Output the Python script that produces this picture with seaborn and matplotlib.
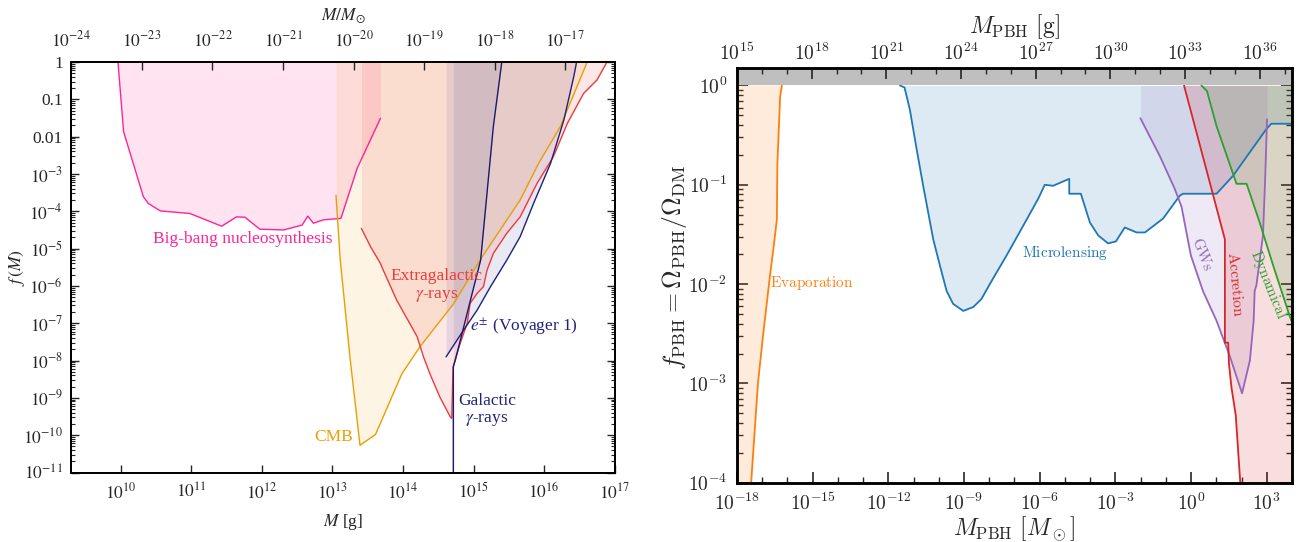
import numpy as np
import matplotlib
matplotlib.use("Agg")
import matplotlib.pyplot as plt
import seaborn as sns
from matplotlib.ticker import LogLocator, NullFormatter, NullLocator

# ---------------- Left panel: log10 M [g], log10 f(M) ----------------
bbn_logM = [9.96, 10.04, 10.32, 10.39, 10.56, 10.98, 11.43, 11.64, 11.76, 11.97,
            12.31, 12.57, 12.65, 12.73, 12.87, 13.12, 13.35, 13.68]
bbn_logf = [0.0, -1.87, -3.61, -3.79, -3.99, -4.06, -4.40, -4.15, -4.16, -4.48,
            -4.50, -4.37, -4.13, -4.32, -4.23, -4.19, -2.85, -1.51]

cmb_logM = [13.05, 13.11, 13.25, 13.39, 13.61, 13.985, 14.24, 14.72, 15.09,
            15.66, 15.92, 16.23, 16.61]
cmb_logf = [-3.57, -5.3, -7.95, -10.27, -9.98, -8.35, -7.63, -6.47, -5.31,
            -3.70, -2.72, -1.73, 0.0]

eg_logM = [13.41, 13.54, 13.68, 13.72, 13.91, 14.20, 14.29, 14.38, 14.52, 14.67,
           14.69, 14.71, 14.81, 14.91, 14.95, 15.05, 15.14, 15.19, 15.28, 15.47,
           15.66, 15.90, 16.13, 16.33, 16.56, 16.75, 16.89]
eg_logf = [-4.46, -4.95, -5.40, -5.58, -6.38, -7.36, -7.90, -8.35, -8.97, -9.51,
           -9.55, -8.17, -7.54, -7.0, -6.47, -6.2, -6.02, -5.58, -5.13, -4.59,
           -4.15, -3.25, -2.54, -1.64, -0.84, -0.48, 0.0]

gal_logM = [14.713, 14.713, 14.74, 14.86, 14.98, 15.10, 15.19, 15.28, 15.40]
gal_logf = [-11.0, -8.17, -7.99, -7.10, -6.2, -5.31, -3.52, -1.73, 0.0]

voy_logM = [14.61, 14.86, 15.05, 15.24, 15.47, 15.66, 15.85, 16.09, 16.28, 16.42, 16.46]
voy_logf = [-7.90, -7.18, -6.65, -6.02, -5.31, -4.68, -3.79, -2.72, -1.55, -0.39, 0.0]

left_xticks_exp = [10, 11, 12, 13, 14, 15, 16, 17]
left_top_exp = [-24, -23, -22, -21, -20, -19, -18, -17]
left_yticks_exp = [-11, -10, -9, -8, -7, -6, -5, -4, -3, -2, -1, 0]
left_ytick_labels = [r'$10^{-11}$', r'$10^{-10}$', r'$10^{-9}$', r'$10^{-8}$',
                     r'$10^{-7}$', r'$10^{-6}$', r'$10^{-5}$', r'$10^{-4}$',
                     r'$10^{-3}$', '0.01', '0.1', '1']

# ---------------- Right panel: log10 M [Msun], log10 f_PBH ----------------
evap_logM = [-18.1, -17.44, -17.17, -16.96, -16.69, -16.56, -16.42, -16.40, -16.29, -16.22]
evap_logf = [-6.4, -4.0, -3.0, -2.5, -1.91, -1.65, -1.35, -0.79, -0.11, 0.0]

micro_logM = [-11.54, -11.36, -11.15, -10.88, -10.62, -10.22, -9.96, -9.69, -9.43,
              -9.03, -8.63, -8.31, -7.98, -7.31, -6.65, -6.06, -5.80, -5.47, -4.83,
              -4.83, -4.37, -4.01, -3.68, -3.29, -2.98, -2.63, -2.16, -1.83, -1.11,
              -0.45, -0.32, 1.01, 1.66, 2.98, 3.18, 4.1]
micro_logf = [0.0, -0.02, -0.24, -0.64, -1.01, -1.55, -1.81, -2.07, -2.20,
              -2.27, -2.23, -2.15, -2.0, -1.71, -1.41, -1.14, -1.00, -1.01, -0.94,
              -1.09, -1.09, -1.38, -1.51, -1.59, -1.57, -1.43, -1.48, -1.48, -1.34,
              -1.11, -1.09, -1.09, -0.91, -0.44, -0.385, -0.385]

gw_logM = [-2.01, -1.24, -0.65, -0.38, -0.01, 0.47, 1.01, 1.54, 2.02, 2.33,
           2.48, 2.52, 2.59, 2.85, 2.94, 3.01]
gw_logf = [-0.33, -0.71, -1.04, -1.22, -1.71, -2.07, -2.37, -2.73, -3.10, -2.77,
           -2.37, -2.07, -2.01, -1.51, -0.91, -0.34]

acc_logM = [-0.28, 1.34, 1.34, 1.47, 1.50, 1.60, 1.77, 1.95, 2.3, 4.5]
acc_logf = [0.0, -1.55, -2.59, -2.59, -2.80, -3.04, -3.32, -4.0, -5.0, -8.0]

dyn_logM = [0.41, 0.63, 1.01, 1.80, 2.20, 2.72, 3.25, 3.88, 4.1]
dyn_logf = [0.0, -0.057, -0.41, -0.99, -0.99, -1.38, -1.81, -2.30, -2.46]

right_xmajor_exp = [-18, -15, -12, -9, -6, -3, 0, 3]
right_top_exp = [15, 18, 21, 24, 27, 30, 33, 36]
right_y_exp = [-4, -3, -2, -1, 0]

# ---------------- style ----------------
sns.set_theme(style="white")
plt.rcParams['font.family'] = ['Liberation Serif', 'DejaVu Serif']
plt.rcParams['mathtext.fontset'] = 'stix'
plt.rcParams['axes.edgecolor'] = 'black'

fig = plt.figure(figsize=(13.11, 5.42), dpi=100)
W, H = 1311.0, 542.0


def px_axes(x0, y0, x1, y1):
    return [x0 / W, 1 - y1 / H, (x1 - x0) / W, (y1 - y0) / H]


axL = fig.add_axes(px_axes(71.4, 62, 614.7, 472.5))
axR = fig.add_axes(px_axes(737, 68, 1292, 482.7))


def constraint(ax, lgM, lgf, line, fill, alpha, lw, top=1.0):
    x = 10 ** np.asarray(lgM, float)
    y = 10 ** np.asarray(lgf, float)
    ax.fill_between(x, y, top, color=fill, alpha=alpha, lw=0, zorder=1)
    sns.lineplot(x=x, y=y, ax=ax, color=line, lw=lw, sort=False,
                 estimator=None, legend=False, zorder=2)


# ---------------- left panel ----------------
axL.set_xscale('log')
axL.set_yscale('log')
constraint(axL, bbn_logM, bbn_logf, '#ff2299', '#ff3aa0', 0.14, 1.0)
constraint(axL, cmb_logM, cmb_logf, '#e8a000', '#f0b030', 0.13, 1.0)
constraint(axL, eg_logM, eg_logf, '#f03a3a', '#f04848', 0.13, 1.0)
constraint(axL, voy_logM, voy_logf, '#22227a', '#303090', 0.10, 1.0)
constraint(axL, gal_logM, gal_logf, '#1a1a70', '#303090', 0.10, 1.0)
# thicker vertical galactic segment
sns.lineplot(x=[10 ** 14.713, 10 ** 14.713], y=[1e-11, 10 ** -8.9], ax=axL,
             color='#1a1a70', lw=2.0, legend=False, zorder=2)
axL.set_xlim(10 ** 9.3, 1e17)
axL.set_ylim(1e-11, 1)

fsL = 12.5
axL.set_xticks([10.0 ** e for e in left_xticks_exp],
               [r'$10^{%d}$' % e for e in left_xticks_exp])
axL.xaxis.set_minor_locator(NullLocator())
axL.set_yticks([10.0 ** e for e in left_yticks_exp], left_ytick_labels)
axL.yaxis.set_minor_locator(LogLocator(base=10, subs=np.arange(2, 10), numticks=100))
axL.yaxis.set_minor_formatter(NullFormatter())
axL.tick_params(axis='x', which='major', direction='in', length=6, width=1.0,
                labelsize=fsL, pad=7, top=False, bottom=True)
axL.tick_params(axis='y', which='major', direction='in', length=6, width=1.0,
                labelsize=fsL, pad=6, left=True, right=True)
axL.tick_params(axis='y', which='minor', direction='in', length=3, width=0.8,
                left=True, right=True)
for s in axL.spines.values():
    s.set_linewidth(1.3)
    s.set_color('black')

axLT = axL.twiny()
axLT.set_xscale('log')
axLT.set_xlim(10 ** 9.3 / 1.989e33, 1e17 / 1.989e33)
axLT.set_xticks([10.0 ** e for e in left_top_exp],
                [r'$10^{%d}$' % e for e in left_top_exp])
axLT.xaxis.set_minor_locator(NullLocator())
axLT.xaxis.set_minor_formatter(NullFormatter())
axLT.tick_params(axis='x', which='major', direction='in', length=6, width=1.0,
                 labelsize=fsL, pad=8)
axLT.set_xlabel(r'$M/M_{\odot}$', fontsize=fsL)
axLT.xaxis.set_label_coords(0.5, 1.112)
axLT.xaxis.label.set_va('center')
for s in axLT.spines.values():
    s.set_linewidth(1.3)

axL.set_xlabel(r'$M$ [g]', fontsize=fsL)
axL.xaxis.set_label_coords(0.5, -0.121)
axL.xaxis.label.set_va('center')
axL.set_ylabel(r'$f\,(M)$', fontsize=fsL)
axL.yaxis.set_label_coords(-0.100, 0.498)
axL.yaxis.label.set_va('center')

fsA = 12.5
axL.text(10 ** 11.73, 10 ** -4.75, 'Big-bang nucleosynthesis', color='#ff2299',
         fontsize=fsA, ha='center', va='center')
axL.text(10 ** 13.01, 10 ** -10.05, 'CMB', color='#e8a000', fontsize=fsA,
         ha='center', va='center')
axL.text(10 ** 14.47, 10 ** -6.0, 'Extragalactic\n' + r'$\gamma$-rays', color='#f03a3a',
         fontsize=fsA, ha='center', va='center', multialignment='center', linespacing=1.1)
axL.text(10 ** 15.72, 10 ** -7.08, r'$e^{\pm}$ (Voyager 1)', color='#22227a',
         fontsize=fsA, ha='center', va='center')
axL.text(10 ** 15.19, 10 ** -9.33, 'Galactic\n' + r'$\gamma$-rays', color='#22227a',
         fontsize=fsA, ha='center', va='center', multialignment='center', linespacing=1.1)

# ---------------- right panel ----------------
CM = dict(math_fontfamily='cm')
axR.set_xscale('log')
axR.set_yscale('log')
constraint(axR, evap_logM, evap_logf, '#ff7f0e', '#ff7f0e', 0.15, 1.3)
constraint(axR, micro_logM, micro_logf, '#1f77b4', '#1f77b4', 0.15, 1.3)
constraint(axR, gw_logM, gw_logf, '#9467bd', '#9467bd', 0.15, 1.3)
constraint(axR, acc_logM, acc_logf, '#d62728', '#d62728', 0.15, 1.3)
constraint(axR, dyn_logM, dyn_logf, '#2ca02c', '#2ca02c', 0.15, 1.3)
axR.axhspan(1.0, 1.5, color='#bfbfbf', lw=0, zorder=2.2)
axR.set_xlim(1e-18, 1e4)
axR.set_ylim(1e-4, 1.5)

fsRt = 14
axR.set_xticks([10.0 ** e for e in right_xmajor_exp],
               [r'$10^{%d}$' % e for e in right_xmajor_exp], **CM)
axR.set_xticks([10.0 ** e for e in range(-18, 5) if e not in right_xmajor_exp], minor=True)
axR.xaxis.set_minor_formatter(NullFormatter())
axR.set_yticks([10.0 ** e for e in right_y_exp],
               [r'$10^{%d}$' % e for e in right_y_exp], **CM)
axR.yaxis.set_minor_locator(LogLocator(base=10, subs=np.arange(2, 10), numticks=100))
axR.yaxis.set_minor_formatter(NullFormatter())
axR.tick_params(axis='both', which='major', direction='in', length=8, width=1.2,
                labelsize=fsRt)
axR.tick_params(axis='x', which='major', pad=7, top=False)
axR.tick_params(axis='x', which='minor', direction='in', length=4, width=1.0, top=False)
axR.tick_params(axis='y', which='major', pad=7, left=True, right=True)
axR.tick_params(axis='y', which='minor', direction='in', length=4, width=1.0,
                left=True, right=True)
for s in axR.spines.values():
    s.set_linewidth(1.8)
    s.set_color('black')
    s.set_zorder(3)

axRT = axR.twiny()
axRT.set_xscale('log')
axRT.set_xlim(1e15, 2e37)
axRT.set_xticks([10.0 ** e for e in right_top_exp],
                [r'$10^{%d}$' % e for e in right_top_exp], **CM)
axRT.set_xticks([10.0 ** e for e in range(15, 38) if e not in right_top_exp], minor=True)
axRT.xaxis.set_minor_formatter(NullFormatter())
axRT.tick_params(axis='x', which='major', direction='in', length=8, width=1.2,
                 labelsize=fsRt, pad=3)
axRT.tick_params(axis='x', which='minor', direction='in', length=4, width=1.0)
for s in axRT.spines.values():
    s.set_linewidth(1.8)

fsRl = 17
axRT.set_xlabel(r'$M_\mathrm{PBH}\ [\mathrm{g}]$', fontsize=fsRl, **CM)
axRT.xaxis.set_label_coords(0.499, 1.10)
axRT.xaxis.label.set_va('center')
axR.set_xlabel(r'$M_\mathrm{PBH}\ [M_\odot]$', fontsize=fsRl, **CM)
axR.xaxis.set_label_coords(0.499, -0.11)
axR.xaxis.label.set_va('center')
axR.set_ylabel(r'$f_\mathrm{PBH} = \Omega_\mathrm{PBH}/\Omega_\mathrm{DM}$',
               fontsize=18.5, **CM)
axR.yaxis.set_label_coords(-0.112, 0.52)
axR.yaxis.label.set_va('center')

fsRa = 11
axR.text(10 ** -15.03, 10 ** -1.985, r'$\mathrm{Evaporation}$', color='#ff7f0e',
         fontsize=fsRa, ha='center', va='center', **CM)
axR.text(10 ** -5.0, 10 ** -1.684, r'$\mathrm{Microlensing}$', color='#1f77b4',
         fontsize=fsRa, ha='center', va='center', **CM)
axR.text(10 ** 0.46, 10 ** -1.70, r'$\mathrm{GWs}$', color='#9467bd', rotation=-69,
         fontsize=fsRa, ha='center', va='center', rotation_mode='anchor', **CM)
axR.text(10 ** 1.77, 10 ** -2.0, r'$\mathrm{Accretion}$', color='#d62728', rotation=-85,
         fontsize=fsRa, ha='center', va='center', rotation_mode='anchor', **CM)
axR.text(10 ** 3.04, 10 ** -2.0, r'$\mathrm{Dynamical}$', color='#2ca02c', rotation=-68,
         fontsize=fsRa, ha='center', va='center', rotation_mode='anchor', **CM)

fig.savefig('out.png', dpi=100, facecolor='white')
